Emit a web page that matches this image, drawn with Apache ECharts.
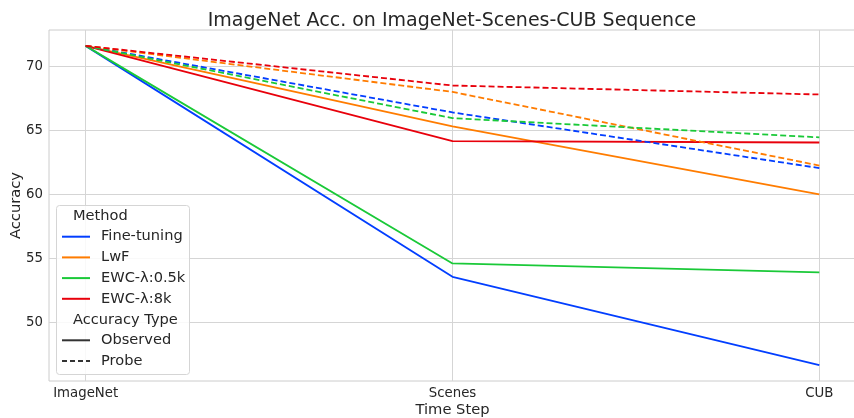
<!DOCTYPE html>
<html>
<head>
<meta charset="utf-8">
<script src="https://cdn.jsdelivr.net/npm/echarts@6/dist/echarts.min.js"></script>
<style>
  html, body { margin: 0; padding: 0; background: #fff; }
  #chart { width: 854px; height: 418px; }
</style>
</head>
<body>
<div id="chart"></div>
<script>
// time steps
const steps = ["ImageNet", "Scenes", "CUB"];
const methods = ["Fine-tuning", "LwF", "EWC-λ:0.5k", "EWC-λ:8k"];
const colors = ["#023eff", "#ff7c00", "#1ac938", "#e8000b"];

// observed accuracy per method
const observed = {
  "Fine-tuning": [71.6, 53.55, 46.65],
  "LwF": [71.6, 65.3, 60.0],
  "EWC-λ:0.5k": [71.6, 54.6, 53.9],
  "EWC-λ:8k": [71.6, 64.15, 64.05],
};
// probe accuracy per method
const probe = {
  "Fine-tuning": [71.6, 66.4, 62.05],
  "LwF": [71.6, 68.0, 62.25],
  "EWC-λ:0.5k": [71.6, 65.95, 64.45],
  "EWC-λ:8k": [71.6, 68.5, 67.8],
};
const yTicks = [50, 55, 60, 65, 70];

const txt = "#262626";
const font = "DejaVu Sans";

const series = [];
methods.forEach((m, i) => {
  series.push({
    name: m, type: "line", symbol: "none",
    data: observed[m].map((v, k) => [k, v]),
    lineStyle: { color: colors[i], width: 1.8 },
    itemStyle: { color: colors[i] },
  });
});
methods.forEach((m, i) => {
  series.push({
    name: m, type: "line", symbol: "none",
    data: probe[m].map((v, k) => [k, v]),
    lineStyle: { color: colors[i], width: 1.8, type: [6, 3] },
    itemStyle: { color: colors[i] },
  });
});
// dummy series for line-style legend
series.push({ name: "Observed", type: "line", symbol: "none", data: [],
  lineStyle: { color: "#333", width: 1.8 }, itemStyle: { color: "#333" } });
series.push({ name: "Probe", type: "line", symbol: "none", data: [],
  lineStyle: { color: "#333", width: 1.8, type: [5, 3] }, itemStyle: { color: "#333" } });

const chart = echarts.init(document.getElementById("chart"));
const legendCommon = {
  orient: "vertical", left: 61, padding: 0, itemWidth: 28, itemHeight: 14, itemGap: 5.7,
  itemStyle: { opacity: 0 },
  textStyle: { color: txt, fontFamily: font, fontSize: 14.6, padding: [0, 0, 0, 6] },
  selectedMode: false,
};
chart.setOption({
  animation: false,
  textStyle: { fontFamily: font },
  title: {
    text: "ImageNet Acc. on ImageNet-Scenes-CUB Sequence",
    left: 447, top: 7, textAlign: "center",
    textStyle: { color: txt, fontFamily: font, fontSize: 19, fontWeight: "normal" },
  },
  grid: { left: 49, right: -2, top: 30, bottom: 37, outerBoundsMode: "none",
    show: true, borderColor: "#cccccc", borderWidth: 1 },
  xAxis: {
    type: "value", min: -0.1, max: 2.1,
    name: "Time Step", nameLocation: "middle", nameGap: 22, nameMoveOverlap: false,
    nameTextStyle: { color: txt, fontSize: 14.7, fontFamily: font },
    axisLine: { show: false },
    axisTick: { show: false, customValues: [0, 1, 2] },
    axisLabel: { customValues: [0, 1, 2], color: txt, fontSize: 13.3, margin: 6,
      formatter: v => steps[Math.round(v)] },
    splitLine: { show: true, customValues: [0, 1, 2], lineStyle: { color: "#d5d5d5", width: 1 } },
  },
  yAxis: {
    type: "value", min: 45.41, max: 72.84,
    name: "Accuracy", nameLocation: "middle", nameGap: 25, nameMoveOverlap: false,
    nameTextStyle: { color: txt, fontSize: 14.7, fontFamily: font },
    axisLine: { show: false },
    axisTick: { show: false, customValues: yTicks },
    axisLabel: { customValues: yTicks, color: txt, fontSize: 13.3, margin: 6 },
    splitLine: { show: true, customValues: yTicks, lineStyle: { color: "#d5d5d5", width: 1 } },
  },
  graphic: [
    { type: "rect", left: 56, top: 205, z: 10,
      shape: { width: 133, height: 169, r: 3 },
      style: { fill: "rgba(255,255,255,0.85)", stroke: "#d5d5d5", lineWidth: 1 } },
    { type: "text", left: 73, top: 209, z: 11,
      style: { text: "Method", fill: txt, font: "14.6px DejaVu Sans" } },
    { type: "text", left: 73, top: 313, z: 11,
      style: { text: "Accuracy Type", fill: txt, font: "14.6px DejaVu Sans" } },
  ],
  legend: [
    Object.assign({ top: 229.2, data: methods, z: 12 }, legendCommon),
    Object.assign({ top: 332.8, data: ["Observed", "Probe"], z: 12 }, legendCommon),
  ],
  series: series,
});
</script>
</body>
</html>
